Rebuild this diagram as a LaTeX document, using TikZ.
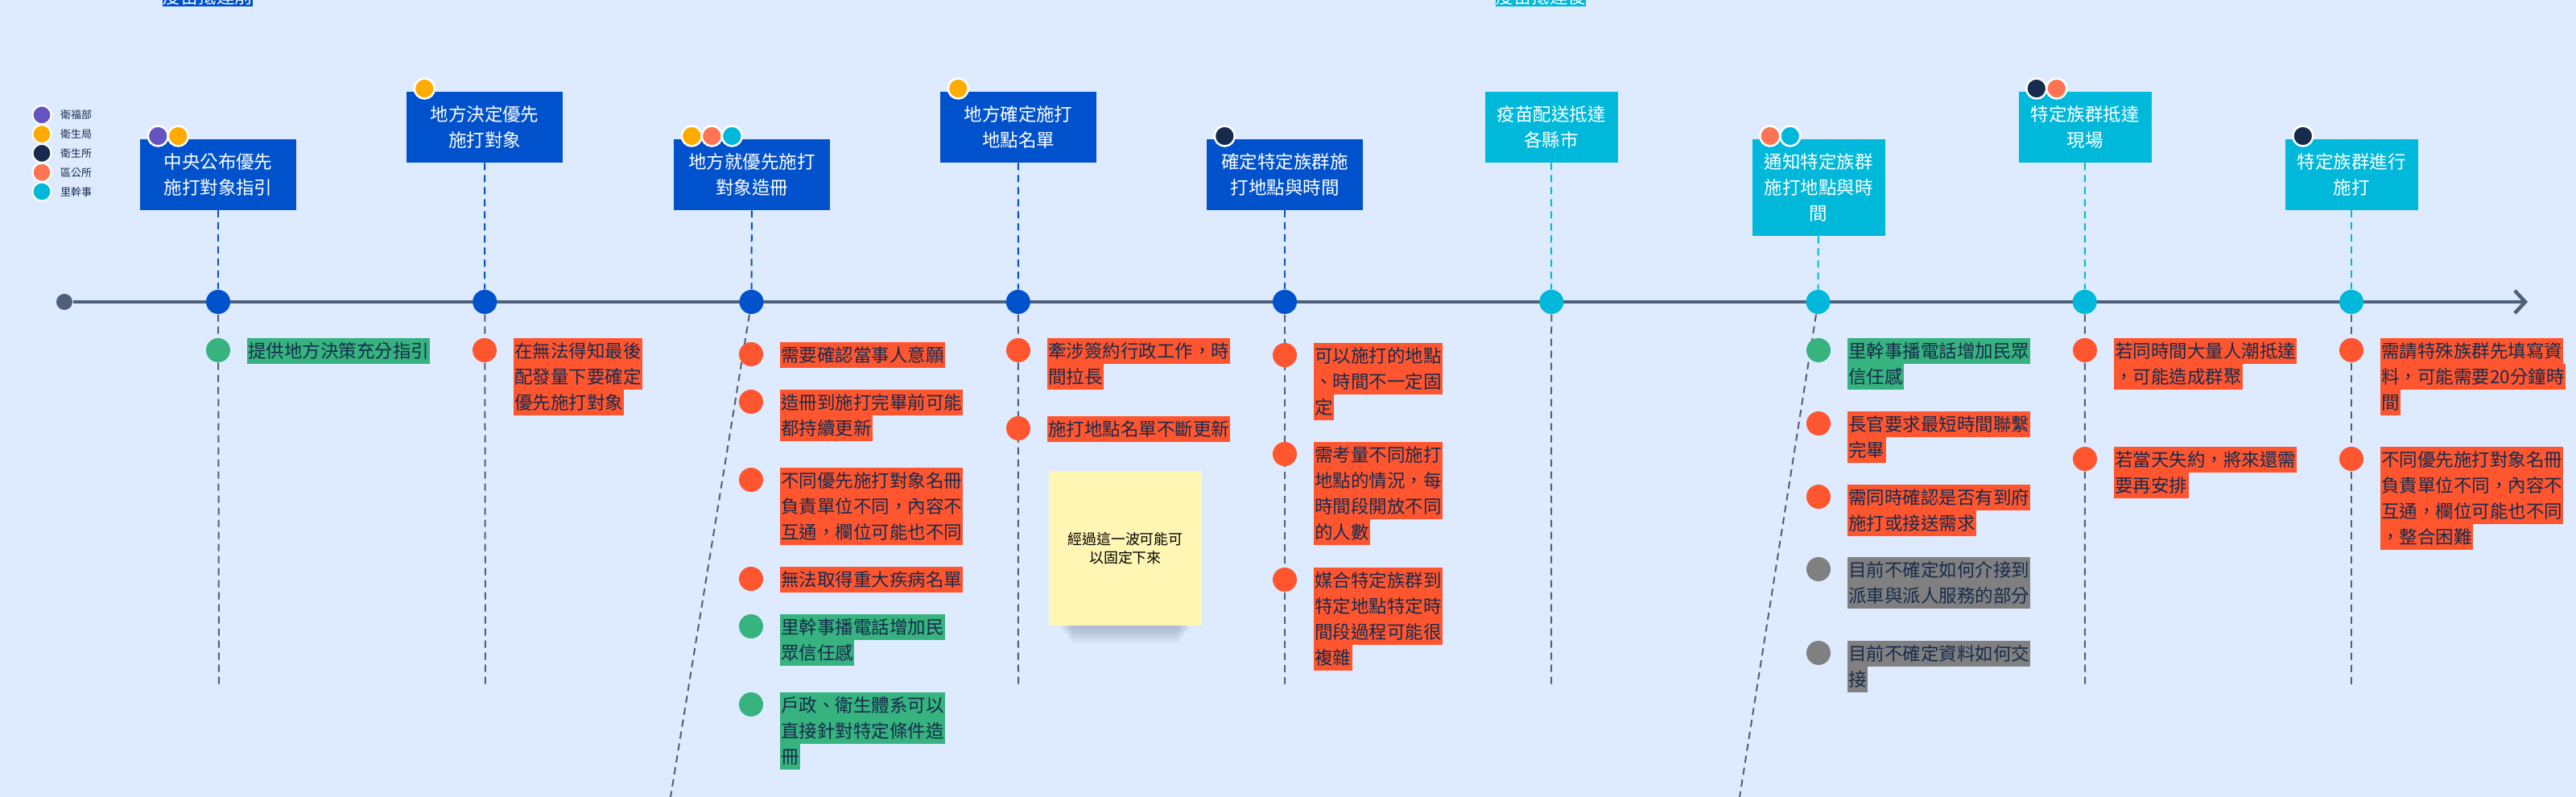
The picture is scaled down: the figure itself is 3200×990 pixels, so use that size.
\documentclass[tikz,border=0pt]{standalone}
\usepackage{fontspec}
\setmainfont{Noto Sans CJK TC}
\usetikzlibrary{arrows.meta, positioning, calc}
\definecolor{tlbg}{HTML}{DEEBFF}
\definecolor{tlblue}{HTML}{0052CC}
\definecolor{tlcyan}{HTML}{00B8D9}
\definecolor{tlline}{HTML}{505F79}
\definecolor{tlgreen}{HTML}{36B37E}
\definecolor{tlred}{HTML}{FF5630}
\definecolor{tlgray}{HTML}{808080}
\definecolor{tlink}{HTML}{172B4D}
\definecolor{cpurple}{HTML}{6554C0}
\definecolor{corange}{HTML}{FFAB00}
\definecolor{cnavy}{HTML}{172B4D}
\definecolor{ccoral}{HTML}{FF7452}
\definecolor{cyellow}{HTML}{FFF6B3}

\setlength{\fboxsep}{0pt}
\newcommand{\bodyfont}{\fontsize{6.4pt}{9.1pt}\selectfont}
\newcommand{\hlstrut}{\rule[-2.1pt]{0pt}{9.1pt}}
\newcommand{\hlr}[1]{\colorbox{tlred}{\hlstrut\kern0.4pt#1\kern0.4pt}}
\newcommand{\hlg}[1]{\colorbox{tlgreen}{\hlstrut\kern0.4pt#1\kern0.4pt}}
\newcommand{\hlk}[1]{\colorbox{tlgray}{\hlstrut\kern0.4pt#1\kern0.4pt}}

\begin{document}
\begin{tikzpicture}[x=0.1mm, y=-0.1mm,
  event/.style={inner sep=0pt, align=center, text=white, font=\bodyfont},
  preev/.style={event, anchor=north, fill=tlblue, minimum width=19.4mm, minimum height=8.8mm},
  postev/.style={event, anchor=north, fill=tlcyan, minimum width=16.5mm, minimum height=8.8mm},
  tdot/.style={circle, minimum size=3mm, inner sep=0pt},
  ndot/.style={circle, minimum size=3mm, inner sep=0pt},
  who/.style={circle, minimum size=2.5mm, inner sep=0pt, draw=white, line width=0.25mm},
  note/.style={anchor=north west, inner sep=0pt, align=left, font=\bodyfont, text=tlink},
  guide/.style={line width=0.2mm, dash pattern=on 0.9mm off 0.6mm},
  timeline/.style={line width=0.45mm, draw=tlline, -{Straight Barb[length=1.3mm, width=2.8mm]}},
  sticky/.style={fill=cyellow, minimum width=19mm, minimum height=19.2mm, inner sep=0pt, align=center, font=\fontsize{5.1pt}{6.6pt}\selectfont},
  legdot/.style={circle, minimum size=2.3mm, inner sep=0pt, draw=white, line width=0.2mm},
  legtext/.style={inner sep=0pt, font=\fontsize{3.7pt}{4.5pt}\selectfont, text=tlink}
]

\useasboundingbox (0,0) rectangle (3200,990);
\fill[tlbg] (0,0) rectangle (3200,990);

% === Fases (cortadas arriba) ===
\begin{scope}
  \clip (0,0) rectangle (3200,60);
  \node[event, fill=tlblue, anchor=south, inner ysep=0.5pt] (pre) at (258,9) {疫苗抵達前};
  \node[event, fill=tlcyan, anchor=south, inner ysep=0.5pt] (post) at (1914,9) {疫苗抵達後};
\end{scope}

% === Leyenda ===
\foreach \i/\col/\label in {
    1/cpurple/衛福部,
    2/corange/衛生局,
    3/cnavy/衛生所,
    4/ccoral/區公所,
    5/tlcyan/里幹事
} {
    \node[legdot, fill=\col] (lg\i) at (52,119+23.8*\i) {};
    \node[legtext, right=1mm of lg\i] (lt\i) {\label};
}

% === Eje temporal ===
\node[tdot, fill=tlline, minimum size=2mm] (t0) at (80,375) {};
\coordinate (tend) at (3140,375);
\draw[timeline] (t0) -- (tend);

% === Eventos ===
\node[preev] (b1) at (271,172) {中央公布優先\\施打對象指引};
\node[preev] (b2) at (602,113) {地方決定優先\\施打對象};
\node[preev] (b3) at (934,172) {地方就優先施打\\對象造冊};
\node[preev] (b4) at (1265,113) {地方確定施打\\地點名單};
\node[preev] (b5) at (1596,172) {確定特定族群施\\打地點與時間};
\node[postev] (b6) at (1927,113) {疫苗配送抵達\\各縣市};
\node[postev, minimum height=12mm] (b7) at (2259,172) {通知特定族群\\施打地點與時\\間};
\node[postev] (b8) at (2590,113) {特定族群抵達\\現場};
\node[postev] (b9) at (2921,172) {特定族群進行\\施打};

\foreach \i in {1,...,5} {
    \node[tdot, fill=tlblue] (t\i) at (271+331.25*\i-331.25,375) {};
    \draw[guide, tlblue] (b\i) -- (t\i);
}
\foreach \i in {6,...,9} {
    \node[tdot, fill=tlcyan] (t\i) at (271+331.25*\i-331.25,375) {};
    \draw[guide, tlcyan] (b\i) -- (t\i);
}

% Guias hacia abajo
\foreach \i/\ex/\ey in {1/272/855, 2/603/855, 3/833/990, 4/1265/855, 5/1596/855,
                        6/1927/855, 7/2161/990, 8/2590/855, 9/2921/855} {
    \coordinate (e\i) at (\ex,\ey);
    \draw[guide, tlline] (t\i) -- (e\i);
}

% Responsables de cada evento
\foreach \i/\k/\pc in {1/1/cpurple, 1/2/corange, 2/1/corange, 3/1/corange, 3/2/ccoral,
                       3/3/tlcyan, 4/1/corange, 5/1/cnavy, 7/1/ccoral, 7/2/tlcyan,
                       8/1/cnavy, 8/2/ccoral, 9/1/cnavy} {
    \node[who, fill=\pc] (p\i-\k) at ($(b\i.north west)+(-2+25*\k,-3)$) {};
}

% === Problemas por evento ===
% columna 1 y 2
\node[ndot, fill=tlgreen] (d1a) at (271,435) {};
\node[note] (n1a) at (306,419) {\hlg{提供地方決策充分指引}};
\node[ndot, fill=tlred] (d2a) at (602,435) {};
\node[note] (n2a) at (637,419) {\hlr{在無法得知最後}\\\hlr{配發量下要確定}\\\hlr{優先施打對象}};

% columna 3
\node[ndot, fill=tlred] (d3a) at (933,440) {};
\node[note] (n3a) at (968,424) {\hlr{需要確認當事人意願}};
\node[ndot, fill=tlred] (d3b) at (933,499) {};
\node[note] (n3b) at (968,483) {\hlr{造冊到施打完畢前可能}\\\hlr{都持續更新}};
\node[ndot, fill=tlred] (d3c) at (933,596) {};
\node[note] (n3c) at (968,580) {\hlr{不同優先施打對象名冊}\\\hlr{負責單位不同，內容不}\\\hlr{互通，欄位可能也不同}};
\node[ndot, fill=tlred] (d3d) at (933,719) {};
\node[note] (n3d) at (968,703) {\hlr{無法取得重大疾病名單}};
\node[ndot, fill=tlgreen] (d3e) at (933,778) {};
\node[note] (n3e) at (968,762) {\hlg{里幹事播電話增加民}\\\hlg{眾信任感}};
\node[ndot, fill=tlgreen] (d3f) at (933,875) {};
\node[note] (n3f) at (968,859) {\hlg{戶政、衛生體系可以}\\\hlg{直接針對特定條件造}\\\hlg{冊}};

% columna 4
\node[ndot, fill=tlred] (d4a) at (1265,435) {};
\node[note] (n4a) at (1300,419) {\hlr{牽涉簽約行政工作，時}\\\hlr{間拉長}};
\node[ndot, fill=tlred] (d4b) at (1265,532) {};
\node[note] (n4b) at (1300,516) {\hlr{施打地點名單不斷更新}};

% columna 5
\node[ndot, fill=tlred] (d5a) at (1596,441) {};
\node[note] (n5a) at (1631,425) {\hlr{可以施打的地點}\\\hlr{、時間不一定固}\\\hlr{定}};
\node[ndot, fill=tlred] (d5b) at (1596,564) {};
\node[note] (n5b) at (1631,548) {\hlr{需考量不同施打}\\\hlr{地點的情況，每}\\\hlr{時間段開放不同}\\\hlr{的人數}};
\node[ndot, fill=tlred] (d5c) at (1596,720) {};
\node[note] (n5c) at (1631,704) {\hlr{媒合特定族群到}\\\hlr{特定地點特定時}\\\hlr{間段過程可能很}\\\hlr{複雜}};

% columna 7
\node[ndot, fill=tlgreen] (d7a) at (2259,435) {};
\node[note] (n7a) at (2294,419) {\hlg{里幹事播電話增加民眾}\\\hlg{信任感}};
\node[ndot, fill=tlred] (d7b) at (2259,526) {};
\node[note] (n7b) at (2294,510) {\hlr{長官要求最短時間聯繫}\\\hlr{完畢}};
\node[ndot, fill=tlred] (d7c) at (2259,617) {};
\node[note] (n7c) at (2294,601) {\hlr{需同時確認是否有到府}\\\hlr{施打或接送需求}};
\node[ndot, fill=tlgray] (d7d) at (2259,707) {};
\node[note] (n7d) at (2294,691) {\hlk{目前不確定如何介接到}\\\hlk{派車與派人服務的部分}};
\node[ndot, fill=tlgray] (d7e) at (2259,811) {};
\node[note] (n7e) at (2294,795) {\hlk{目前不確定資料如何交}\\\hlk{接}};

% columna 8
\node[ndot, fill=tlred] (d8a) at (2590,435) {};
\node[note] (n8a) at (2625,419) {\hlr{若同時間大量人潮抵達}\\\hlr{，可能造成群聚}};
\node[ndot, fill=tlred] (d8b) at (2590,570) {};
\node[note] (n8b) at (2625,554) {\hlr{若當天失約，將來還需}\\\hlr{要再安排}};

% columna 9
\node[ndot, fill=tlred] (d9a) at (2921,435) {};
\node[note] (n9a) at (2956,419) {\hlr{需請特殊族群先填寫資}\\\hlr{料，可能需要20分鐘時}\\\hlr{間}};
\node[ndot, fill=tlred] (d9b) at (2921,570) {};
\node[note] (n9b) at (2956,554) {\hlr{不同優先施打對象名冊}\\\hlr{負責單位不同，內容不}\\\hlr{互通，欄位可能也不同}\\\hlr{，整合困難}};

% === Nota adhesiva ===
\foreach \s in {0,...,7}
    \fill[tlline, opacity=0.045] (1318+2*\s,768) rectangle (1478-2*\s,782+2.5*\s);
\node[sticky] (memo) at (1398,681) {經過這一波可能可\\以固定下來};

\end{tikzpicture}
\end{document}
